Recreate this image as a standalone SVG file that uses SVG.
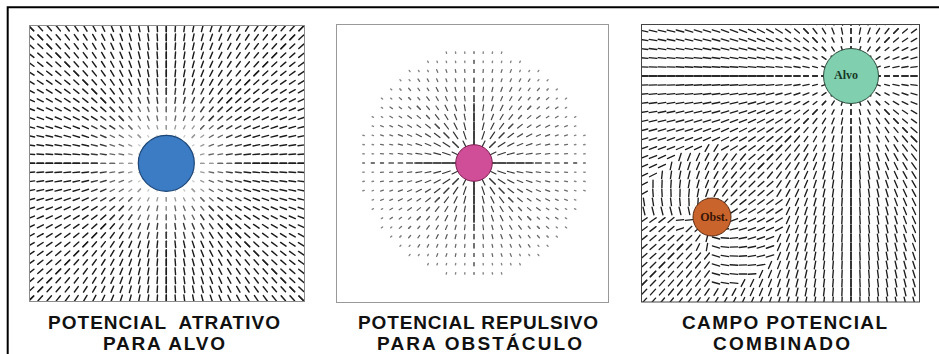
<svg xmlns="http://www.w3.org/2000/svg" width="939" height="354" viewBox="0 0 939 354">
<style>
.lbl{font-family:"Liberation Sans",Arial,sans-serif;font-weight:bold;font-size:19px;fill:#111;text-anchor:middle}
.in{font-family:"Liberation Serif","Times New Roman",serif;font-weight:bold;font-size:12px;text-anchor:middle}
marker path{fill:none;stroke-linecap:round}
.bd{fill:none;stroke:none}
</style>
<defs>
<marker id="a2" markerUnits="userSpaceOnUse" orient="auto" overflow="visible"><path d="M0-.1V.1" stroke="#c8c8c8" stroke-width=".14"/></marker>
<marker id="a3" markerUnits="userSpaceOnUse" orient="auto" overflow="visible"><path d="M0-.19V.19" stroke="#9a9a9a" stroke-width=".15"/></marker>
<marker id="a4" markerUnits="userSpaceOnUse" orient="auto" overflow="visible"><path d="M0-.26V.26" stroke="#666" stroke-width=".15"/></marker>
<marker id="a5" markerUnits="userSpaceOnUse" orient="auto" overflow="visible"><path d="M0-.33V.33" stroke="#383838" stroke-width=".16"/></marker>
<marker id="a6" markerUnits="userSpaceOnUse" orient="auto" overflow="visible"><path d="M0-.37V.37" stroke="#1c1c1c" stroke-width=".16"/></marker>
<marker id="c1" markerUnits="userSpaceOnUse" orient="auto" overflow="visible"><path d="M0-.43V.43" stroke="#333" stroke-width=".13"/></marker>
<marker id="c3" markerUnits="userSpaceOnUse" orient="auto" overflow="visible"><path d="M0-.38V.38" stroke="#3a3a3a" stroke-width=".13"/></marker>
<marker id="c4" markerUnits="userSpaceOnUse" orient="auto" overflow="visible"><path d="M0-.32V.32" stroke="#474747" stroke-width=".13"/></marker>
<marker id="c5" markerUnits="userSpaceOnUse" orient="auto" overflow="visible"><path d="M0-.24V.24" stroke="#565656" stroke-width=".13"/></marker>
<marker id="c6" markerUnits="userSpaceOnUse" orient="auto" overflow="visible"><path d="M0-.16V.16" stroke="#6a6a6a" stroke-width=".14"/></marker>
<marker id="c7" markerUnits="userSpaceOnUse" orient="auto" overflow="visible"><path d="M0-.08V.08" stroke="#858585" stroke-width=".15"/></marker>
<marker id="e1" markerUnits="userSpaceOnUse" orient="auto" overflow="visible"><path d="M0-.27V.27" stroke="#222" stroke-width=".15"/></marker>
<marker id="e2" markerUnits="userSpaceOnUse" orient="auto" overflow="visible"><path d="M0-.35V.35" stroke="#222" stroke-width=".15"/></marker>
<marker id="e3" markerUnits="userSpaceOnUse" orient="auto" overflow="visible"><path d="M0-.43V.43" stroke="#1e1e1e" stroke-width=".15"/></marker>
<marker id="en" markerUnits="userSpaceOnUse" orient="auto" overflow="visible"><circle r=".53" fill="#fff"/><path d="M-.43 0H.43" stroke="#1e1e1e" stroke-width=".15"/></marker>
<marker id="es" markerUnits="userSpaceOnUse" orient="auto" overflow="visible"><circle r=".53" fill="#fff"/><path d="M0-.4V.4" stroke="#1e1e1e" stroke-width=".15"/></marker>

<path id="b1" class="bd" d="M0 0L1 0 0 0 1 1 0 0 2 0 0 0 2 1 0 0"/>
<path id="b2" class="bd" d="M0 0L2 2 0 0 3 0 0 0 3 1 0 0 3 2 0 0"/>
<path id="b3" class="bd" d="M0 0L3 3 0 0 4 0 0 0 4 1 0 0 4 2 0 0 4 3 0 0 5 0 0 0"/>
<path id="b4" class="bd" d="M0 0L4 4 0 0 5 1 0 0 5 2 0 0 5 3 0 0 5 4 0 0 6 0 0 0 6 1 0 0 6 2 0 0 6 3 0 0 7 0 0 0"/>
<path id="b5" class="bd" d="M0 0L5 5 0 0 6 4 0 0 6 5 0 0 6 6 0 0 7 1 0 0 7 2 0 0 7 3 0 0 7 4 0 0 7 5 0 0 8 0 0 0 8 1 0 0 8 2 0 0 8 3 0 0 8 4 0 0 9 0 0 0"/>
<path id="b6" class="bd" d="M0 0L7 6 0 0 7 7 0 0 8 5 0 0 8 6 0 0 8 7 0 0 9 1 0 0 9 2 0 0 9 3 0 0 9 4 0 0 9 5 0 0 9 6 0 0 10 0 0 0 10 1 0 0 10 2 0 0 10 3 0 0 10 4 0 0 11 0 0 0"/>
<path id="b7" class="bd" d="M0 0L8 8 0 0 9 7 0 0 9 8 0 0 10 5 0 0 10 6 0 0 10 7 0 0 11 1 0 0 11 2 0 0 11 3 0 0 11 4 0 0 11 5 0 0 12 0 0 0 12 1 0 0 12 2 0 0 12 3 0 0"/>
<path id="b8" class="bd" d="M0 0L9 9 0 0 10 8 0 0 10 9 0 0 10 10 0 0 11 6 0 0 11 7 0 0 11 8 0 0 11 9 0 0 11 10 0 0 11 11 0 0 12 4 0 0 12 5 0 0 12 6 0 0 12 7 0 0 12 8 0 0 12 9 0 0 12 10 0 0 12 11 0 0 12 12 0 0 13 0 0 0 13 1 0 0 13 2 0 0 13 3 0 0 13 4 0 0 13 5 0 0 13 6 0 0 13 7 0 0 13 8 0 0 13 9 0 0 13 10 0 0 13 11 0 0 13 12 0 0 13 13 0 0 14 0 0 0 14 1 0 0 14 2 0 0 14 3 0 0 14 4 0 0 14 5 0 0 14 6 0 0 14 7 0 0 14 8 0 0 14 9 0 0 14 10 0 0 14 11 0 0 14 12 0 0 14 13 0 0 14 14 0 0 15 0 0 0 15 1 0 0 15 2 0 0 15 3 0 0 15 4 0 0 15 5 0 0 15 6 0 0 15 7 0 0 15 8 0 0 15 9 0 0 15 10 0 0 15 11 0 0 15 12 0 0 15 13 0 0 15 14 0 0 15 15 0 0"/>
<path id="b9" class="bd" d="M0 0L16 0 0 0 16 1 0 0 16 2 0 0 16 3 0 0 16 4 0 0 16 5 0 0 16 6 0 0 16 7 0 0 16 8 0 0 16 9 0 0 16 10 0 0 16 11 0 0 16 12 0 0 16 13 0 0 16 14 0 0 16 15 0 0 16 16 0 0 17 0 0 0 17 1 0 0 17 2 0 0 17 3 0 0 17 4 0 0 17 5 0 0 17 6 0 0 17 7 0 0 17 8 0 0 17 9 0 0 17 10 0 0 17 11 0 0 17 12 0 0 17 13 0 0 17 14 0 0 17 15 0 0 17 16 0 0 17 17 0 0 18 0 0 0 18 1 0 0 18 2 0 0 18 3 0 0 18 4 0 0 18 5 0 0 18 6 0 0 18 7 0 0 18 8 0 0 18 9 0 0 18 10 0 0 18 11 0 0 18 12 0 0 18 13 0 0 18 14 0 0 18 15 0 0 18 16 0 0 18 17 0 0 18 18 0 0 19 0 0 0 19 1 0 0 19 2 0 0 19 3 0 0 19 4 0 0 19 5 0 0 19 6 0 0 19 7 0 0 19 8 0 0 19 9 0 0 19 10 0 0 19 11 0 0 19 12 0 0 19 13 0 0 19 14 0 0 19 15 0 0 19 16 0 0 19 17 0 0 19 18 0 0 19 19 0 0 20 0 0 0 20 1 0 0 20 2 0 0 20 3 0 0 20 4 0 0 20 5 0 0 20 6 0 0 20 7 0 0 20 8 0 0 20 9 0 0 20 10 0 0 20 11 0 0 20 12 0 0 20 13 0 0 20 14 0 0 20 15 0 0 20 16 0 0 20 17 0 0 20 18 0 0 20 19 0 0 20 20 0 0 21 0 0 0 21 1 0 0 21 2 0 0 21 3 0 0 21 4 0 0 21 5 0 0 21 6 0 0 21 7 0 0 21 8 0 0 21 9 0 0 21 10 0 0 21 11 0 0 21 12 0 0 21 13 0 0 21 14 0 0 21 15 0 0 21 16 0 0 21 17 0 0 21 18 0 0 21 19 0 0 21 20 0 0 21 21 0 0 22 0 0 0 22 1 0 0 22 2 0 0 22 3 0 0 22 4 0 0 22 5 0 0 22 6 0 0 22 7 0 0 22 8 0 0 22 9 0 0 22 10 0 0 22 11 0 0 22 12 0 0 22 13 0 0 22 14 0 0 22 15 0 0 22 16 0 0 22 17 0 0 22 18 0 0 22 19 0 0 22 20 0 0 22 21 0 0 22 22 0 0 23 0 0 0 23 1 0 0 23 2 0 0 23 3 0 0 23 4 0 0 23 5 0 0 23 6 0 0 23 7 0 0 23 8 0 0 23 9 0 0 23 10 0 0 23 11 0 0 23 12 0 0 23 13 0 0 23 14 0 0 23 15 0 0 23 16 0 0 23 17 0 0 23 18 0 0 23 19 0 0 23 20 0 0 23 21 0 0 23 22 0 0 23 23 0 0 24 0 0 0 24 1 0 0 24 2 0 0 24 3 0 0 24 4 0 0 24 5 0 0 24 6 0 0 24 7 0 0 24 8 0 0 24 9 0 0 24 10 0 0 24 11 0 0 24 12 0 0 24 13 0 0 24 14 0 0 24 15 0 0 24 16 0 0 24 17 0 0 24 18 0 0 24 19 0 0 24 20 0 0 24 21 0 0 24 22 0 0 24 23 0 0 25 0 0 0 25 1 0 0 25 2 0 0 25 3 0 0 25 4 0 0 25 5 0 0 25 6 0 0 25 7 0 0 25 8 0 0 25 9 0 0 25 10 0 0 25 11 0 0 25 12 0 0 25 13 0 0 25 14 0 0 25 15 0 0 25 16 0 0 25 17 0 0 25 18 0 0 25 19 0 0 25 20 0 0 25 21 0 0 25 22 0 0 25 23 0 0"/>

<g id="o1"><use href="#b2" style="marker-mid:url(#a2)"/><use href="#b3" style="marker-mid:url(#a3)"/><use href="#b4" style="marker-mid:url(#a4)"/><use href="#b5" style="marker-mid:url(#a5)"/><use href="#b6" style="marker-mid:url(#a6)"/><use href="#b7" style="marker-mid:url(#a6)"/><use href="#b8" style="marker-mid:url(#a6)"/></g>
<g id="o2"><use href="#b1" style="marker-mid:url(#c1)"/><use href="#b2" style="marker-mid:url(#c1)"/><use href="#b3" style="marker-mid:url(#c3)"/><use href="#b4" style="marker-mid:url(#c4)"/><use href="#b5" style="marker-mid:url(#c5)"/><use href="#b6" style="marker-mid:url(#c6)"/><use href="#b7" style="marker-mid:url(#c7)"/></g>
<g id="o3"><use href="#b1" style="marker-mid:url(#e1)"/><use href="#b2" style="marker-mid:url(#e1)"/><use href="#b3" style="marker-mid:url(#e1)"/><use href="#b4" style="marker-mid:url(#e2)"/><use href="#b5" style="marker-mid:url(#e2)"/><use href="#b6" style="marker-mid:url(#e3)"/><use href="#b7" style="marker-mid:url(#e3)"/><use href="#b8" style="marker-mid:url(#e3)"/><use href="#b9" style="marker-mid:url(#e3)"/></g>

<clipPath id="k1"><rect x="29.5" y="25.5" width="275" height="276"/></clipPath>
<clipPath id="k3"><rect x="641.5" y="24.5" width="278" height="277.5"/></clipPath>
</defs>

<rect width="939" height="354" fill="#fff"/>
<path id="frame" d="M7.7 354V7.3H939" fill="none" stroke="#000" stroke-width="2"/>

<g id="panel-atrativo">
<rect x="29.5" y="25.5" width="275" height="276" fill="#fff"/>
<g clip-path="url(#k1)"><g transform="translate(166.3 163.3) scale(9)">
<use href="#o1"/><use href="#o1" transform="scale(-1 1)"/><use href="#o1" transform="scale(1 -1)"/><use href="#o1" transform="scale(-1 -1)"/><use href="#o1" transform="matrix(0 1 1 0 0 0)"/><use href="#o1" transform="matrix(0 1 -1 0 0 0)"/><use href="#o1" transform="matrix(0 -1 1 0 0 0)"/><use href="#o1" transform="matrix(0 -1 -1 0 0 0)"/>
</g></g>
<rect x="29.5" y="25.5" width="275" height="276" fill="none" stroke="#8c8c8c" stroke-width="1"/>
<circle cx="166.3" cy="163.3" r="28" fill="#3b7cc4" stroke="#1d4677" stroke-width="1.2"/>
<text class="lbl" x="164" y="328.6" textLength="232" xml:space="preserve">POTENCIAL  ATRATIVO</text>
<text class="lbl" x="164" y="349.8" textLength="122">PARA ALVO</text>
</g>

<g id="panel-repulsivo">
<rect x="336.5" y="24.5" width="272" height="278" fill="#fff" stroke="#999" stroke-width="1"/>
<g transform="translate(474 163) scale(9.2)">
<use href="#o2"/><use href="#o2" transform="scale(-1 1)"/><use href="#o2" transform="scale(1 -1)"/><use href="#o2" transform="scale(-1 -1)"/><use href="#o2" transform="matrix(0 1 1 0 0 0)"/><use href="#o2" transform="matrix(0 1 -1 0 0 0)"/><use href="#o2" transform="matrix(0 -1 1 0 0 0)"/><use href="#o2" transform="matrix(0 -1 -1 0 0 0)"/>
</g>
<path d="M414 163H456M492 163H534M474 103V145M474 181V223" stroke="#333" stroke-width="1.2" fill="none"/>
<circle cx="474" cy="163" r="18.3" fill="#d04d98" stroke="#7a2050" stroke-width="1"/>
<text class="lbl" x="478" y="328.6" textLength="240">POTENCIAL REPULSIVO</text>
<text class="lbl" x="479.5" y="349.8" textLength="205">PARA OBSTÁCULO</text>
</g>

<g id="panel-combinado">
<rect x="641.5" y="24.5" width="278" height="277.5" fill="#fff"/>
<g clip-path="url(#k3)"><g transform="translate(851 76) scale(9)">
<use href="#o3"/><use href="#o3" transform="scale(-1 1)"/><use href="#o3" transform="scale(1 -1)"/><use href="#o3" transform="scale(-1 -1)"/><use href="#o3" transform="matrix(0 1 1 0 0 0)"/><use href="#o3" transform="matrix(0 1 -1 0 0 0)"/><use href="#o3" transform="matrix(0 -1 1 0 0 0)"/><use href="#o3" transform="matrix(0 -1 -1 0 0 0)"/>
<path class="bd" style="marker-mid:url(#en)" d="M-15.4 15.7L-16 8 0 0 -15 8 -15.4 15.7 -19 9 0 0 -18 9 -15.4 15.7 -17 9 0 0 -16 9 -15.4 15.7 -15 9 0 0 -14 9 -15.4 15.7 -13 9 0 0 -12 9 -15.4 15.7 -20 10 0 0 -19 10 -15.4 15.7 -18 10 0 0 -17 10 -15.4 15.7 -16 10 0 0 -15 10 -15.4 15.7 -14 10 0 0 -13 10 -15.4 15.7 -12 10 0 0 -11 10 -15.4 15.7 -21 11 0 0 -20 11 -15.4 15.7 -19 11 0 0 -18 11 -15.4 15.7 -17 11 0 0 -16 11 -15.4 15.7 -15 11 0 0 -14 11 -15.4 15.7 -13 11 0 0 -12 11 -15.4 15.7 -11 11 0 0 -10 11 -15.4 15.7 -22 12 0 0 -21 12 -15.4 15.7 -20 12 0 0 -19 12 -15.4 15.7 -18 12 0 0 -17 12 -15.4 15.7 -16 12 0 0 -15 12 -15.4 15.7 -14 12 0 0 -13 12 -15.4 15.7 -12 12 0 0 -11 12 -15.4 15.7 -10 12 0 0 -9 12 -15.4 15.7 -22 13 0 0 -21 13 -15.4 15.7 -20 13 0 0 -19 13 -15.4 15.7 -18 13 0 0 -17 13 -15.4 15.7 -16 13 0 0 -15 13 -15.4 15.7 -14 13 0 0 -13 13 -15.4 15.7 -12 13 0 0 -11 13 -15.4 15.7 -10 13 0 0 -9 13 -15.4 15.7 -23 14 0 0 -22 14 -15.4 15.7 -21 14 0 0 -20 14 -15.4 15.7 -19 14 0 0 -18 14 -15.4 15.7 -17 14 0 0 -16 14 -15.4 15.7 -15 14 0 0 -14 14 -15.4 15.7 -13 14 0 0 -12 14 -15.4 15.7 -11 14 0 0 -10 14 -15.4 15.7 -9 14 0 0 -8 14 -15.4 15.7 -23 15 0 0 -22 15 -15.4 15.7 -21 15 0 0 -20 15 -15.4 15.7 -19 15 0 0 -18 15 -15.4 15.7 -17 15 0 0 -16 15 -15.4 15.7 -15 15 0 0 -14 15 -15.4 15.7 -13 15 0 0 -12 15 -15.4 15.7 -11 15 0 0 -10 15 -15.4 15.7 -9 15 0 0 -8 15 -15.4 15.7 -15 16 0 0 -14 16 -15.4 15.7 -13 16 0 0 -12 16 -15.4 15.7 -11 16 0 0 -10 16 -15.4 15.7 -9 16 0 0 -8 16 -15.4 15.7 -15 17 0 0 -14 17 -15.4 15.7 -13 17 0 0 -12 17 -15.4 15.7 -11 17 0 0 -10 17 -15.4 15.7 -9 17 0 0 -8 17 -15.4 15.7 -15 18 0 0 -14 18 -15.4 15.7 -13 18 0 0 -12 18 -15.4 15.7 -11 18 0 0 -10 18 -15.4 15.7 -9 18 0 0 -15 19 -15.4 15.7 -14 19 0 0 -13 19 -15.4 15.7 -12 19 0 0 -11 19 -15.4 15.7 -10 19 0 0 -9 19 -15.4 15.7 -15 20 0 0 -14 20 -15.4 15.7 -13 20 0 0 -12 20 -15.4 15.7 -11 20 0 0 -10 20 -15.4 15.7 -9 20 0 0 -15 21 -15.4 15.7 -14 21 0 0 -13 21 -15.4 15.7 -12 21 0 0 -11 21 -15.4 15.7 -10 21 0 0 -15 22 -15.4 15.7 -14 22 0 0 -13 22 -15.4 15.7 -12 22 0 0 -11 22 -15.4 15.7 -15 23 0 0 -14 23 -15.4 15.7 -13 23 0 0"/>
<path class="bd" style="marker-mid:url(#es)" d="M-15.4 15.7L-17 17 -15.4 15.7 -18 16 -15.4 15.7 -19 16 -15.4 15.7 -19 17 -15.4 15.7 -16 18 -15.4 15.7 -17 18 -15.4 15.7 -18 18 -15.4 15.7 -16 19 -15.4 15.7 -17 19 -15.4 15.7"/>
</g></g>
<rect x="641.5" y="24.5" width="278" height="277.5" fill="none" stroke="#444" stroke-width="1"/>
<circle cx="851" cy="76" r="27.5" fill="#80d0b0" stroke="#2e4a3c" stroke-width="1"/>
<text class="in" x="846" y="79" fill="#173826">Alvo</text>
<circle cx="712" cy="217" r="19" fill="#c9642d" stroke="#5a2a10" stroke-width="1"/>
<text class="in" x="714" y="221" fill="#3a1505">Obst.</text>
<text class="lbl" x="784.5" y="328.6" textLength="205">CAMPO POTENCIAL</text>
<text class="lbl" x="781.5" y="349.8" textLength="137">COMBINADO</text>
</g>
</svg>
